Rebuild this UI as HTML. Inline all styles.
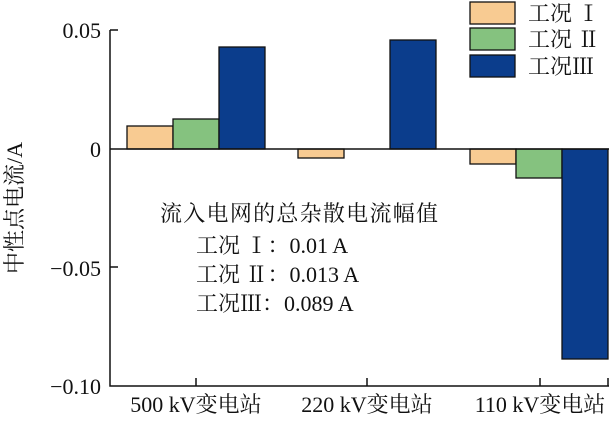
<!DOCTYPE html>
<html><head><meta charset="utf-8"><style>
body{margin:0;background:#fff;}
svg text{font-family:"Liberation Serif","Noto Serif CJK SC",serif;fill:#111;}
</style></head><body>
<svg width="609" height="417" viewBox="0 0 609 417" xmlns="http://www.w3.org/2000/svg">
<g stroke="#111" stroke-width="1.3">
<rect x="127" y="126" width="46" height="23" fill="#f8cb92"/>
<rect x="173" y="119" width="46" height="30" fill="#85c27f"/>
<rect x="219" y="47" width="46" height="102" fill="#0b3d8c"/>
<rect x="298" y="149" width="46" height="9" fill="#f8cb92"/>
<rect x="390" y="40" width="46" height="109" fill="#0b3d8c"/>
<rect x="470" y="149" width="46" height="15" fill="#f8cb92"/>
<rect x="516" y="149" width="46" height="29" fill="#85c27f"/>
<rect x="562" y="149" width="46" height="210" fill="#0b3d8c"/>
</g>
<g stroke="#111" stroke-width="1.5" fill="none">
<path d="M110 30 V386 H609"/>
<path d="M110 30 H118 M110 149 H609 M110 267 H118"/>
<path d="M196 386 V378 M367 386 V378 M540 386 V378 M608 386 V378"/>
</g>
<g font-size="22" text-anchor="end">
<text x="101" y="38">0.05</text>
<text x="101" y="157">0</text>
<text x="101" y="276">−0.05</text>
<text x="101" y="394">−0.10</text>
</g>
<g font-size="22" text-anchor="middle">
<text x="196" y="412">500 kV变电站</text>
<text x="367" y="412">220 kV变电站</text>
<text x="540" y="412">110 kV变电站</text>
</g>
<text transform="translate(22,208) rotate(-90)" font-size="22" text-anchor="middle">中性点电流/A</text>
<g stroke="#111" stroke-width="1.3">
<rect x="470" y="2" width="45" height="22" fill="#f8cb92"/>
<rect x="470" y="28" width="45" height="22" fill="#85c27f"/>
<rect x="470" y="55" width="45" height="22" fill="#0b3d8c"/>
</g>
<g font-size="22">
<text x="528" y="21">工况 Ⅰ</text>
<text x="528" y="47">工况 Ⅱ</text>
<text x="528" y="74">工况Ⅲ</text>
<text x="160" y="221" textLength="278">流入电网的总杂散电流幅值</text>
<text x="196" y="253">工况 Ⅰ：0.01 A</text>
<text x="196" y="282">工况 Ⅱ：0.013 A</text>
<text x="196" y="311">工况Ⅲ：0.089 A</text>
</g>
</svg>
</body></html>
